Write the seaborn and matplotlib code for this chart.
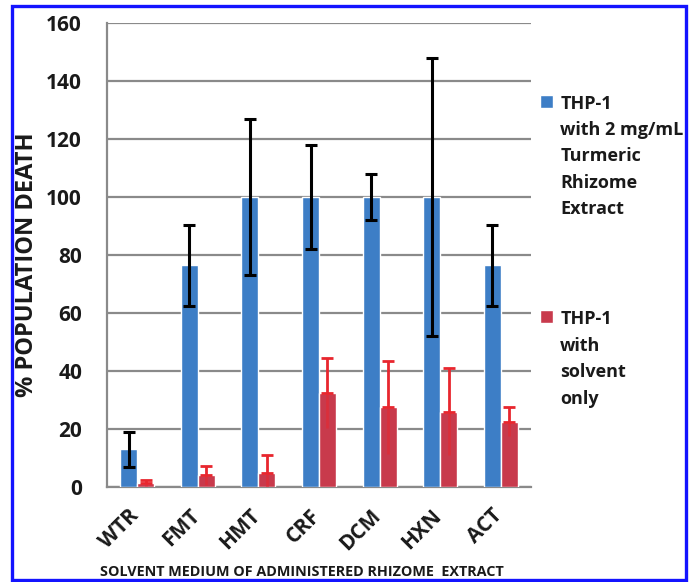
import matplotlib
matplotlib.use("Agg")
import matplotlib.pyplot as plt
import matplotlib.patches as mpatches
import matplotlib.transforms as mtransforms
import numpy as np
import pandas as pd
import seaborn as sns

# Data
solvents = ['WTR', 'FMT', 'HMT', 'CRF', 'DCM', 'HXN', 'ACT']
extract_death = [13, 76.5, 100, 100, 100, 100, 76.5]
extract_err = [6, 14, 27, 18, 8, 48, 14]
solvent_death = [1.5, 4, 5, 32.5, 27.5, 26, 22.5]
solvent_err = [1, 3.3, 6, 12, 16, 15, 5]

series_names = ['THP-1\nwith 2 mg/mL\nTurmeric\nRhizome\nExtract',
                'THP-1\nwith\nsolvent\nonly']

BLUE = '#3d7ec6'
RED = '#c83a4c'
ERR_RED = '#e8262e'
GRID = '#8a8a8a'
TXT = '#1a1a1a'

sns.set_theme(style="white")
plt.rcParams['font.family'] = ['Open Sans', 'DejaVu Sans']
plt.rcParams['font.weight'] = 'bold'

df = pd.DataFrame({
    'Solvent': solvents * 2,
    'Death': extract_death + solvent_death,
    'Series': [series_names[0]] * len(solvents) + [series_names[1]] * len(solvents),
})

fig = plt.figure(figsize=(6.95, 5.82), dpi=100)
ax = fig.add_axes([0.154, 0.1632, 0.61, 0.7973])

sns.barplot(data=df, x='Solvent', y='Death', hue='Series', order=solvents,
            hue_order=series_names, palette=[BLUE, RED], width=0.56,
            gap=0, errorbar=None, saturation=1, ax=ax, zorder=3)

# error bars placed on the seaborn bar centres
blue_x = [p.get_x() + p.get_width() / 2 for p in ax.containers[0]]
red_x = [p.get_x() + p.get_width() / 2 for p in ax.containers[1]]
ax.errorbar(blue_x, extract_death, yerr=extract_err, fmt='none', ecolor='black',
            elinewidth=2.2, capsize=4.5, capthick=2.2, zorder=5)
ax.errorbar(red_x, solvent_death, yerr=[np.zeros(len(solvents)), solvent_err],
            fmt='none', ecolor=ERR_RED, elinewidth=2.0, capsize=4.5, capthick=2.0, zorder=5)
ax.errorbar(red_x, solvent_death, yerr=[solvent_err, np.zeros(len(solvents))],
            fmt='none', ecolor=ERR_RED, elinewidth=2.0, capsize=0, alpha=0.55, zorder=5)

ax.set_ylim(0, 160)
ax.set_xlim(-0.5, len(solvents) - 0.5)
ax.set_yticks(np.arange(0, 161, 20))
ax.yaxis.grid(True, color=GRID, linewidth=1.6, zorder=0)
ax.set_axisbelow(True)

for side in ['top', 'right']:
    ax.spines[side].set_visible(False)
for side in ['left', 'bottom']:
    ax.spines[side].set_color(GRID)
    ax.spines[side].set_linewidth(1.6)

ax.tick_params(axis='y', which='major', length=8, width=1.6, color=GRID,
               labelsize=15, pad=10, labelcolor=TXT)
ax.set_xticks(np.arange(-0.5, len(solvents), 1.0), minor=True)
ax.tick_params(axis='x', which='minor', length=6, width=1.6, color=GRID, direction='out')
ax.tick_params(axis='x', which='major', length=0, pad=13, labelcolor=TXT)
ax.set_xticks(range(len(solvents)))
ax.set_xticklabels(solvents, rotation=45, ha='right', rotation_mode='anchor',
                   fontsize=15, fontweight='bold')
shift = mtransforms.ScaledTranslation(-0.09, 0, fig.dpi_scale_trans)
for lab in ax.get_xticklabels():
    lab.set_transform(lab.get_transform() + shift)
for lab in ax.get_yticklabels():
    lab.set_fontweight('bold')

ax.set_ylabel('% POPULATION DEATH', fontsize=17, fontweight='bold', color=TXT)
ax.yaxis.set_label_coords(-0.16, 0.48)
ax.set_xlabel('')
fig.text(0.144, 0.006, 'SOLVENT MEDIUM OF ADMINISTERED RHIZOME  EXTRACT', fontsize=10.4,
         fontweight='bold', color=TXT, ha='left', va='bottom')

handles, labels = ax.get_legend_handles_labels()
leg = ax.legend(handles, labels, loc='upper left', bbox_to_anchor=(1.0, 0.865),
                frameon=False, prop={'weight': 'bold', 'size': 13}, labelspacing=5.1,
                handlelength=0.72, handleheight=0.72, handletextpad=0.4, borderaxespad=0.1)
for t in leg.get_texts():
    t.set_linespacing(1.6)
    t.set_color(TXT)
for col in leg._legend_handle_box.get_children():
    for hp in col.get_children():
        hp.align = 'top'

# blue frame around the figure
fig.patches.append(mpatches.Rectangle((0.0173, 0.0034), 0.9698, 0.9863, transform=fig.transFigure,
                                      fill=False, edgecolor='#1414ff', linewidth=2.4))

fig.savefig('out.png', dpi=100)
